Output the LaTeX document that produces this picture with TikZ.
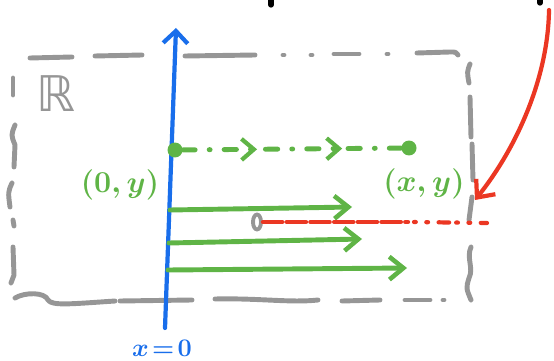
\documentclass[tikz,border=0pt]{standalone}
\usepackage{amssymb}
\usepackage{fontspec}
\newfontfamily\symfont{DejaVu Sans}
\usetikzlibrary{arrows.meta,decorations.markings,shapes.geometric}
\definecolor{penGrey}{RGB}{150,150,150}
\definecolor{penBlue}{RGB}{25,110,235}
\definecolor{penGreen}{RGB}{95,180,70}
\definecolor{penRed}{RGB}{235,55,35}
\begin{document}
\begin{tikzpicture}[x=0.02cm,y=-0.02cm, line cap=round, line join=round,
  greyline/.style={draw=penGrey, line width=2.8pt},
  blueline/.style={draw=penBlue, line width=2.4pt},
  greenline/.style={draw=penGreen, line width=2.8pt},
  redline/.style={draw=penRed, line width=2.4pt},
  dotnode/.style={circle, fill=penGreen, inner sep=0pt, minimum size=0.3cm},
  greenlabel/.style={text=penGreen, font=\fontsize{17}{20}\selectfont\boldmath},
  ]
\useasboundingbox (0,0) rectangle (554,361);

% cropped black marks at the top
\draw[black, line width=3pt] (271,0) -- (271,5);
\draw[black, line width=3pt] (540,0) -- (540,3);

% grey region boundary
\draw[greyline] (30,58) -- (72,57);
\draw[greyline] (95,56) -- (142,55);
\draw[greyline] (185,56) -- (255,55);
\draw[greyline] (283,55) -- (284,55);
\draw[greyline] (311,55) -- (312,55);
\draw[greyline] (334,54) -- (359,54);
\draw[greyline] (387,54) -- (388,54);
\draw[greyline] (417,53) -- (450,52) .. controls (456,52) .. (458,55);
% right side
\draw[greyline] (470,64) .. controls (467,72) .. (469,83);
\draw[greyline] (470,97) -- (471,137);
\draw[greyline] (472,144) -- (473,180);
\draw[greyline] (472,197) -- (469,220);
\draw[greyline] (471,247) .. controls (466,258) and (474,268) .. (469,278) .. controls (466,288) .. (471,300);
% bottom
\draw[greyline] (15,298) .. controls (25,292) and (45,292) .. (48,300) .. controls (52,306) and (70,304) .. (115,301);
\draw[greyline] (120,301) -- (192,300);
\draw[greyline] (215,299) .. controls (260,298) and (290,303) .. (318,300);
\draw[greyline] (342,301) -- (380,300);
\draw[greyline] (405,300) -- (430,300);
\draw[greyline] (443,300) -- (444,300);
% left side
\draw[greyline] (13,78) -- (13,95);
\draw[greyline] (15,125) .. controls (11,135) .. (15,145) -- (14,167);
\draw[greyline] (12,183) .. controls (8,192) .. (10,207);
\draw[greyline] (13,220) -- (14,226);
\draw[greyline] (13,247) -- (14,275) -- (11,283);

% region label
\node[text=penGrey, font=\symfont\fontsize{28}{32}\selectfont] (reg) at (56,94) {ℝ};

% blue axis x=0
\coordinate (axbot) at (165,328);
\coordinate (axtop) at (176,28);
\draw[blueline, -{Straight Barb[length=7pt,width=14pt,line width=2.4pt]}] (axbot) -- (axtop);
\node[text=penBlue, font=\fontsize{15}{17}\selectfont\boldmath] (lblx0) at (162,348) {$x\!=\!0$};

% points on the flow line
\node[dotnode] (dot0) at (175,150) {};
\node[dotnode] (dotxy) at (409,148) {};
\node[greenlabel] (lbl0) at (120,185) {$(0,y)$};
\node[greenlabel] (lblxy) at (424,184) {$(x,y)$};

% dashed flow line with arrows
\draw[greenline, dash pattern=on 7pt off 8pt on 0.5pt off 8pt,
  postaction={decorate},
  decoration={markings,
    mark=at position 0.34 with {\arrow{Straight Barb[length=7pt,width=12pt,line width=2.4pt]}},
    mark=at position 0.73 with {\arrow{Straight Barb[length=7pt,width=12pt,line width=2.4pt]}}}]
  (dot0) -- (dotxy);

% green flow arrows
\coordinate (g1s) at (170,210);
\coordinate (g1e) at (352,207);
\coordinate (g2s) at (169,243);
\coordinate (g2e) at (362,239);
\coordinate (g3s) at (168,270);
\coordinate (g3e) at (407,268);
\draw[greenline, -{Straight Barb[length=8pt,width=13pt,line width=2.6pt]}] (g1s) -- (g1e);
\draw[greenline, -{Straight Barb[length=8pt,width=13pt,line width=2.6pt]}] (g2s) -- (g2e);
\draw[greenline, -{Straight Barb[length=8pt,width=13pt,line width=2.6pt]}] (g3s) -- (g3e);

% red dashed ray from small grey circle
\node[draw=penGrey, line width=2.2pt, ellipse, minimum width=0.16cm, minimum height=0.3cm, inner sep=0pt] (circ) at (257,222) {};
\coordinate (rmid) at (408,222);
\coordinate (rmid2) at (414,222);
\coordinate (rend) at (487,223);
\draw[redline, dash pattern=on 11pt off 2.5pt] (circ.east) -- (rmid);
\draw[redline, dash pattern=on 1pt off 6pt on 1pt off 6pt on 6pt off 4pt] (rmid2) -- (rend);

% red pointer arrow
\coordinate (rtop) at (549,10);
\coordinate (rtip) at (475,200);
\draw[redline, -{Straight Barb[length=8pt,width=14pt,line width=2.4pt]}] (rtop) .. controls (548,80) and (515,150) .. (rtip);
\end{tikzpicture}
\end{document}
